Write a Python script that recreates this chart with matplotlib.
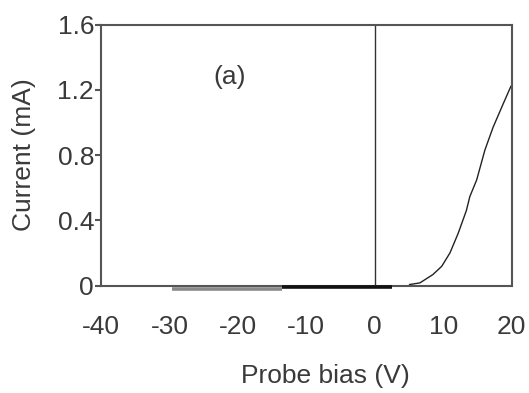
import matplotlib
matplotlib.use("Agg")
import matplotlib.pyplot as plt

plt.rcParams['font.family'] = ['Liberation Sans', 'DejaVu Sans']

# Data
grey_x = [-29.6, -13.5]
grey_y = [-0.024, -0.024]
black_x = [-13.5, 2.5]
black_y = [-0.012, -0.012]
curve_x = [5.1, 6.6, 8.5, 9.8, 11.0, 12.2, 13.4, 13.9, 14.9, 16.1, 17.3, 18.8, 19.9]
curve_y = [0.006, 0.016, 0.067, 0.118, 0.20, 0.32, 0.46, 0.545, 0.647, 0.83, 0.97, 1.116, 1.221]
xticks = [-40, -30, -20, -10, 0, 10, 20]
yticks = [0, 0.4, 0.8, 1.2, 1.6]
ytick_labels = ['0', '0.4', '0.8', '1.2', '1.6']

fig = plt.figure(figsize=(5.29, 3.93), dpi=100)
ax = fig.add_axes([0.191, 0.2735, 0.776, 0.664])

tc = '#3a3a3a'
sc = '#555555'
ax.plot(grey_x, grey_y, color='#8a8a8a', lw=2.6, solid_capstyle='butt', clip_on=False, zorder=3)
ax.plot(black_x, black_y, color='#111111', lw=2.6, solid_capstyle='butt', clip_on=False, zorder=3)
ax.plot(curve_x, curve_y, color='#222222', lw=1.0)
ax.axvline(0, color='#333333', lw=1.0)

ax.set_xlim(-40, 20)
ax.set_ylim(0, 1.6)
ax.set_xticks(xticks)
ax.set_xticklabels([str(v) for v in xticks])
ax.set_xticks([-40, 0, 20], minor=True)
ax.tick_params(axis='x', which='major', length=0, pad=21, labelsize=19, labelcolor=tc)
ax.tick_params(axis='x', which='minor', length=6, width=1.5, color=sc, direction='out')
ax.set_yticks(yticks)
ax.set_yticklabels(ytick_labels)
ax.tick_params(axis='y', length=4, width=1.5, color=sc, direction='out', pad=1, labelsize=19, labelcolor=tc)

for s in ax.spines.values():
    s.set_color(sc)
    s.set_linewidth(1.5)

ax.text(-21.2, 1.28, '(a)', fontsize=19, color=tc, ha='center', va='center')
ax.set_xlabel('Probe bias (V)', fontsize=19, color=tc)
ax.xaxis.set_label_coords(0.546, -0.30)
ax.set_ylabel('Current (mA)', fontsize=19, color=tc)
ax.yaxis.set_label_coords(-0.158, 0.5)

fig.savefig('out.png', dpi=100)
